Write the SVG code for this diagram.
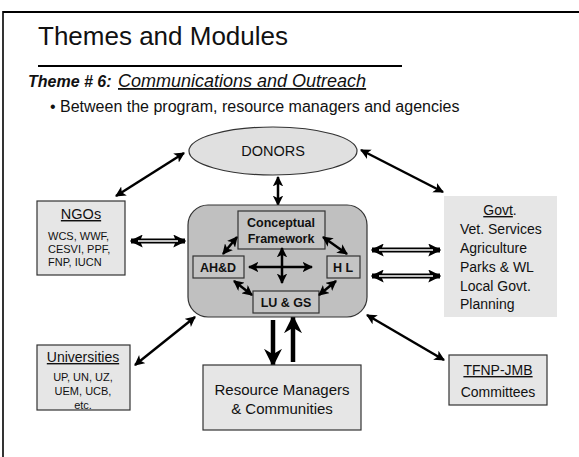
<svg xmlns="http://www.w3.org/2000/svg" width="579" height="457" viewBox="0 0 579 457">
<defs>
<style>
text{font-family:"Liberation Sans",Arial,sans-serif;fill:#111}
.box{fill:#e6e6e6;stroke:#333;stroke-width:1.2}
.inner{fill:#c4c4c4;stroke:#333;stroke-width:1.2}
.b{font-weight:bold;font-size:12.5px;text-anchor:middle}
.c{text-anchor:middle}
.u{text-decoration:underline}
.arr{stroke:#000;stroke-width:2.5;fill:none;marker-start:url(#ah);marker-end:url(#ah)}
.dbl{stroke:#000;stroke-width:5;fill:none;marker-start:url(#dh);marker-end:url(#dh)}
.dblw{stroke:#fff;stroke-width:1.4;fill:none}
.thick{stroke:#000;stroke-width:4.5;fill:none;marker-end:url(#th)}
</style>
<marker id="ah" viewBox="0 0 10 10" refX="9" refY="5" markerWidth="4.2" markerHeight="4.2" orient="auto-start-reverse" markerUnits="strokeWidth">
<path d="M0,0 L10,5 L0,10 L2.5,5 Z" fill="#000"/>
</marker>
<marker id="dh" viewBox="0 0 10 10" refX="9" refY="5" markerWidth="2.6" markerHeight="2.6" orient="auto-start-reverse" markerUnits="strokeWidth">
<path d="M0,0 L10,5 L0,10 L2,5 Z" fill="#000"/>
</marker>
<marker id="th" viewBox="0 0 10 10" refX="9" refY="5" markerWidth="4" markerHeight="4" orient="auto" markerUnits="strokeWidth">
<path d="M0,0 L10,5 L0,10 L3,5 Z" fill="#000"/>
</marker>
</defs>

<g id="frame">
<line x1="3" y1="12" x2="579" y2="12" stroke="#000" stroke-width="2"/>
<line x1="3" y1="11" x2="3" y2="457" stroke="#000" stroke-width="1.6"/>
</g>

<g id="heading">
<text x="38" y="45" font-size="26">Themes and Modules</text>
<line x1="38" y1="66" x2="402" y2="66" stroke="#000" stroke-width="2"/>
<text x="28" y="87" font-size="16" font-weight="bold" font-style="italic">Theme # 6:</text>
<text x="118" y="87" font-size="18" font-style="italic" class="u">Communications and Outreach</text>
<text x="50" y="112" font-size="16">• Between the program, resource managers and agencies</text>
</g>

<g id="connectors">
<line class="arr" x1="116" y1="196" x2="184" y2="153"/>
<line class="arr" x1="361" y1="150" x2="443" y2="192"/>
<line class="arr" x1="278" y1="177" x2="278" y2="205"/>
<line class="arr" x1="135" y1="365" x2="195" y2="317"/>
<line class="arr" x1="367" y1="315" x2="444" y2="360"/>
<line class="dbl" x1="131" y1="241" x2="185" y2="241"/>
<line class="dblw" x1="138" y1="241" x2="178" y2="241"/>
<line class="dbl" x1="372" y1="250" x2="440" y2="250"/>
<line class="dblw" x1="379" y1="250" x2="433" y2="250"/>
<line class="dbl" x1="372" y1="276" x2="440" y2="276"/>
<line class="dblw" x1="379" y1="276" x2="433" y2="276"/>
<line class="thick" x1="273" y1="320" x2="273" y2="365"/>
<line class="thick" x1="293" y1="362" x2="293" y2="317"/>
</g>

<g id="donors">
<ellipse cx="273" cy="151" rx="84" ry="24" fill="#e0e0e0" stroke="#333" stroke-width="1.2"/>
<text x="273" y="156" font-size="14.5" class="c">DONORS</text>
</g>

<g id="center">
<rect x="188" y="205" width="179" height="112" rx="20" fill="#c0c0c0" stroke="#333" stroke-width="1.2"/>
<g id="conceptual">
<rect class="inner" x="238" y="211" width="87" height="38"/>
<text x="281" y="227" class="b">Conceptual</text>
<text x="281" y="243" class="b">Framework</text>
</g>
<g id="ahd">
<rect class="inner" x="193" y="256" width="51" height="22"/>
<text x="218" y="272" class="b">AH&amp;D</text>
</g>
<g id="hl">
<rect class="inner" x="327" y="256" width="33" height="22"/>
<text x="343" y="272" class="b">H L</text>
</g>
<g id="lugs">
<rect class="inner" x="253" y="291" width="66" height="22"/>
<text x="286" y="307" class="b">LU &amp; GS</text>
</g>
<g id="inner-connectors">
<line class="arr" stroke-width="2" x1="249" y1="267" x2="312" y2="267"/>
<line class="arr" stroke-width="2" x1="282" y1="248" x2="282" y2="283"/>
<line class="arr" stroke-width="2" x1="237" y1="237" x2="223" y2="254"/>
<line class="arr" stroke-width="2" x1="323" y1="237" x2="347" y2="254"/>
<line class="arr" stroke-width="2" x1="234" y1="281" x2="252" y2="295"/>
<line class="arr" stroke-width="2" x1="336" y1="281" x2="319" y2="295"/>
</g>
</g>

<g id="ngos">
<rect class="box" x="37" y="201" width="88" height="74"/>
<text x="81" y="219" font-size="14.5" class="c u">NGOs</text>
<text x="48" y="240" font-size="11">WCS, WWF,</text>
<text x="48" y="253" font-size="11">CESVI, PPF,</text>
<text x="48" y="266" font-size="11">FNP, IUCN</text>
</g>

<g id="govt">
<rect x="444" y="196" width="113" height="121" fill="#e6e6e6"/>
<text x="500" y="215" font-size="14" class="c"><tspan class="u">Govt</tspan>.</text>
<text x="460" y="234" font-size="14">Vet. Services</text>
<text x="460" y="253" font-size="14">Agriculture</text>
<text x="460" y="272" font-size="14">Parks &amp; WL</text>
<text x="460" y="291" font-size="14">Local Govt.</text>
<text x="460" y="309" font-size="14">Planning</text>
</g>

<g id="universities">
<rect class="box" x="37" y="345" width="93" height="65"/>
<text x="83" y="362" font-size="14" class="c u">Universities</text>
<text x="83" y="381" font-size="11" class="c">UP, UN, UZ,</text>
<text x="83" y="395" font-size="11" class="c">UEM, UCB,</text>
<text x="83" y="409" font-size="11" class="c">etc.</text>
</g>

<g id="resource">
<rect class="box" x="203" y="365" width="158" height="65"/>
<text x="282" y="395" font-size="15" class="c">Resource Managers</text>
<text x="282" y="414" font-size="15" class="c">&amp; Communities</text>
</g>

<g id="tfnp">
<rect class="box" x="449" y="355" width="98" height="50"/>
<text x="498" y="375" font-size="14" class="c u">TFNP-JMB</text>
<text x="498" y="397" font-size="14" class="c">Committees</text>
</g>
</svg>
